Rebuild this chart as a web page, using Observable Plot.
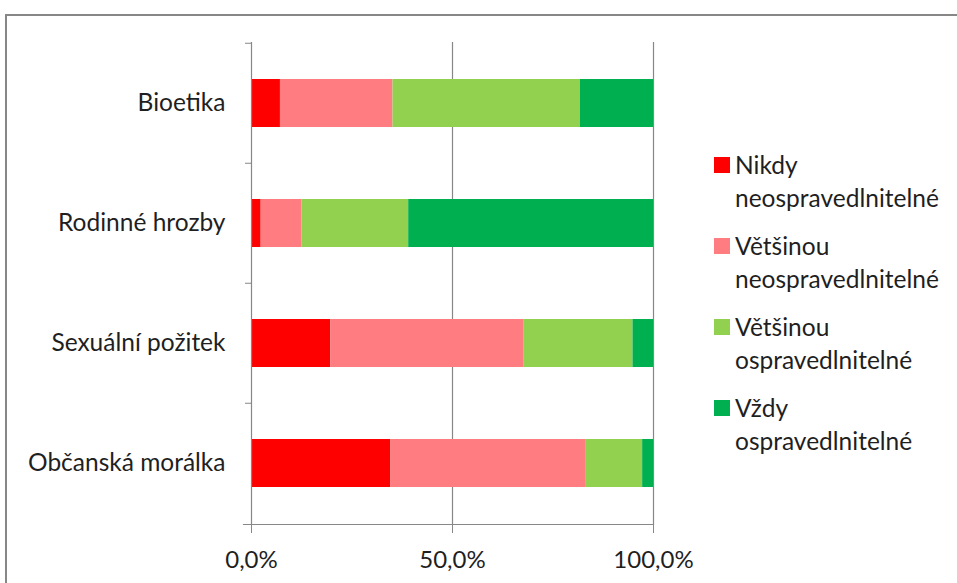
<!DOCTYPE html>
<html><head><meta charset="utf-8">
<script src="https://cdn.jsdelivr.net/npm/d3@7"></script>
<script src="https://cdn.jsdelivr.net/npm/@observablehq/plot@0.6"></script>
<style>
body{margin:0;background:#fff;}
#wrap{position:relative;width:957px;height:583px;overflow:hidden;font-family:Lato,sans-serif;background:#fff;}
#wrap svg{position:absolute;left:0;top:0;}
#border{position:absolute;left:5px;top:14px;width:1000px;height:1000px;border:2px solid #878787;box-sizing:border-box;pointer-events:none;}
.item{position:absolute;left:714px;}
.sw{position:absolute;left:0;top:9px;width:16px;height:16px;}
.txt{position:absolute;left:21px;top:0;line-height:33px;font-size:24.5px;color:#1f1f1f;white-space:nowrap;}
</style></head>
<body>
<div id="wrap"></div>
<script>
const categories = ["Bioetika", "Rodinné hrozby", "Sexuální požitek", "Občanská morálka"];
const series = ["Nikdy neospravedlnitelné", "Většinou neospravedlnitelné", "Většinou ospravedlnitelné", "Vždy ospravedlnitelné"];
const nikdy      = [7.2, 2.4, 19.7, 34.6];
const vetsinouNe = [28.0, 10.2, 48.0, 48.5];
const vetsinouO  = [46.6, 26.5, 27.2, 14.2];
const vzdy       = [18.2, 60.9, 5.1, 2.7];
const xTicks = [0, 50, 100];
const colors = ["#FF0000", "#FF7C80", "#92D050", "#00B050"];

const cols = [nikdy, vetsinouNe, vetsinouO, vzdy];
const data = [];
categories.forEach((c, i) => series.forEach((s, j) => data.push({cat: c, series: s, value: cols[j][i]})));

const fmt = v => v.toFixed(1).replace(".", ",") + "%";
const W = 957, H = 583, mt = 42, mb = 59, ml = 251, mr = 304;
const step = (H - mt - mb) / categories.length;
const grey = "#878787";

const chart = Plot.plot({
  width: W, height: H,
  marginLeft: ml, marginRight: mr, marginTop: mt, marginBottom: mb,
  style: {fontFamily: "Lato, sans-serif", fontSize: "24.5px", color: "#1f1f1f", background: "transparent", overflow: "visible"},
  x: {domain: [0, 100]},
  y: {domain: categories, paddingInner: 0.6, paddingOuter: 0.3},
  color: {domain: series, range: colors},
  marks: [
    Plot.ruleX([50, 100], {stroke: grey, strokeWidth: 1.2}),
    Plot.barX(data, Plot.stackX({x: "value", y: "cat", fill: "series"})),
    Plot.ruleX([0], {stroke: grey, strokeWidth: 1.2}),
    Plot.frame({anchor: "bottom", stroke: grey, strokeWidth: 1.2, insetLeft: -8}),
    Plot.axisX({ticks: xTicks, tickFormat: fmt, tickSize: 9, tickPadding: 17, stroke: grey, fill: "#1f1f1f", label: null, fontSize: 24}),
    Plot.axisY({tickSize: 0, tickPadding: 26, label: null, fill: "#1f1f1f"}),
    Plot.axisY({tickSize: 6, tickFormat: () => "", dy: -step / 2, stroke: grey, label: null})
  ]
});
const wrap = document.getElementById("wrap");
wrap.appendChild(chart);

series.forEach((s, i) => {
  const k = s.indexOf(" ");
  const item = document.createElement("div");
  item.className = "item";
  item.style.top = (148 + i * 81) + "px";
  const sw = document.createElement("div");
  sw.className = "sw";
  sw.style.background = colors[i];
  const t = document.createElement("div");
  t.className = "txt";
  t.innerHTML = s.slice(0, k) + "<br>" + s.slice(k + 1);
  item.appendChild(sw); item.appendChild(t);
  wrap.appendChild(item);
});
const b = document.createElement("div");
b.id = "border";
wrap.appendChild(b);
</script>
</body></html>
